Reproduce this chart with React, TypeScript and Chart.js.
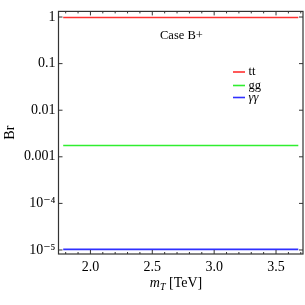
import React, { useEffect, useRef } from "react";
import { Chart, registerables } from "chart.js";
Chart.register(...registerables);

const massTeV = [1.78, 2.0, 2.5, 3.0, 3.5, 3.68];
const brTT = [0.98, 0.98, 0.98, 0.98, 0.98, 0.98];
const brGG = [0.00175, 0.00175, 0.00175, 0.00175, 0.00175, 0.00175];
const brAA = [1.03e-5, 1.03e-5, 1.03e-5, 1.03e-5, 1.03e-5, 1.03e-5];
const seriesLabels = ["tt", "gg", "γγ"];
const seriesColors = ["#ff3030", "#30ee30", "#3030ff"];
const yTicks = [1e-5, 1e-4, 1e-3, 1e-2, 0.1, 1];
const yTickLabels = ["10⁻⁵", "10⁻⁴", "0.001", "0.01", "0.1", "1"];
const xMajor = [2.0, 2.5, 3.0, 3.5];
const xMinor = [1.8, 1.9, 2.1, 2.2, 2.3, 2.4, 2.6, 2.7, 2.8, 2.9, 3.1, 3.2, 3.3, 3.4, 3.6, 3.7];
const annotation = "Case B+";
const xTitleMain = "m";
const xTitleSub = "T";
const xTitleUnit = " [TeV]";

const FONT = "'Liberation Serif', 'DejaVu Serif', serif";

const framePlugin = {
  id: "frame",
  afterDraw(chart: any) {
    const { ctx, chartArea: a, scales } = chart;
    const xs = scales.x;
    const ys = scales.y;
    ctx.save();
    ctx.strokeStyle = "#333";
    ctx.lineWidth = 1.2;
    ctx.strokeRect(a.left, a.top, a.right - a.left, a.bottom - a.top);
    ctx.lineWidth = 1;
    const tick = (x1: number, y1: number, x2: number, y2: number) => {
      ctx.beginPath();
      ctx.moveTo(x1, y1);
      ctx.lineTo(x2, y2);
      ctx.stroke();
    };
    xMajor.forEach((v) => {
      const p = xs.getPixelForValue(v);
      tick(p, a.bottom, p, a.bottom - 4);
      tick(p, a.top, p, a.top + 4);
    });
    xMinor.forEach((v) => {
      const p = xs.getPixelForValue(v);
      tick(p, a.bottom, p, a.bottom - 2);
      tick(p, a.top, p, a.top + 2);
    });
    yTicks.forEach((v) => {
      const p = ys.getPixelForValue(v);
      tick(a.left, p, a.left + 4, p);
      tick(a.right, p, a.right - 4, p);
    });
    // annotation
    ctx.fillStyle = "#000";
    ctx.font = `12.5px ${FONT}`;
    ctx.textBaseline = "middle";
    ctx.textAlign = "left";
    ctx.fillText(annotation, 160, 36);
    // legend
    const ly = [72, 85.5, 97.5];
    chart.data.datasets.forEach((ds: any, i: number) => {
      ctx.strokeStyle = ds.borderColor;
      ctx.lineWidth = 1.6;
      tick(233, ly[i], 245, ly[i]);
      ctx.fillStyle = "#000";
      ctx.font = i < 2 ? `12.5px ${FONT}` : `italic 12.5px ${FONT}`;
      ctx.fillText(ds.label, 248.5, ly[i]);
    });
    // x title with subscript
    ctx.textBaseline = "alphabetic";
    const base = 287;
    ctx.font = `italic 14px ${FONT}`;
    const wM = ctx.measureText(xTitleMain).width;
    ctx.font = `italic 10px ${FONT}`;
    const wS = ctx.measureText(xTitleSub).width;
    ctx.font = `14px ${FONT}`;
    const wU = ctx.measureText(xTitleUnit).width;
    let x = 176 - (wM + wS + wU) / 2;
    ctx.font = `italic 14px ${FONT}`;
    ctx.fillText(xTitleMain, x, base);
    x += wM;
    ctx.font = `italic 10px ${FONT}`;
    ctx.fillText(xTitleSub, x, base + 3);
    x += wS;
    ctx.font = `14px ${FONT}`;
    ctx.fillText(xTitleUnit, x, base);
    ctx.restore();
  },
};

export default function App() {
  const ref = useRef<HTMLCanvasElement>(null);
  useEffect(() => {
    if (!ref.current) return;
    const data = [brTT, brGG, brAA];
    const chart = new Chart(ref.current, {
      type: "line",
      data: {
        datasets: data.map((d, i) => ({
          label: seriesLabels[i],
          data: massTeV.map((x, j) => ({ x, y: d[j] })),
          borderColor: seriesColors[i],
          backgroundColor: seriesColors[i],
          borderWidth: 1.6,
          pointRadius: 0,
          tension: 0,
        })),
      },
      options: {
        animation: false,
        responsive: false,
        layout: { padding: { left: 0, right: 2, top: 10, bottom: 0 } },
        plugins: { legend: { display: false }, tooltip: { enabled: false } },
        scales: {
          x: {
            type: "linear",
            min: 1.742,
            max: 3.718,
            grid: { display: false, drawTicks: false },
            border: { display: false },
            afterBuildTicks: (s: any) => {
              s.ticks = xMajor.map((v) => ({ value: v }));
            },
            afterFit: (s: any) => {
              s.height = 51;
            },
            ticks: {
              padding: 5,
              color: "#000",
              font: { family: FONT, size: 14 },
              callback: (v: any) => Number(v).toFixed(1),
              maxRotation: 0,
            },
          },
          y: {
            type: "logarithmic",
            min: 8.2e-6,
            max: 1.32,
            grid: { display: false, drawTicks: false },
            border: { display: false },
            afterBuildTicks: (s: any) => {
              s.ticks = yTicks.map((v) => ({ value: v }));
            },
            afterFit: (s: any) => {
              s.width = 58.5;
            },
            ticks: {
              padding: 3,
              color: "#000",
              font: { family: FONT, size: 14 },
              callback: (v: any) => {
                const i = yTicks.findIndex((t) => Math.abs(t - v) / t < 1e-6);
                return i >= 0 ? yTickLabels[i] : "";
              },
            },
            title: {
              display: true,
              text: "Br",
              color: "#000",
              font: { family: FONT, size: 14 },
              padding: { bottom: 0, top: 2 },
            },
          },
        },
      } as any,
      plugins: [framePlugin],
    });
    return () => chart.destroy();
  }, []);
  return (
    <div style={{ position: "fixed", left: 0, top: 0, width: 305, height: 305, background: "#fff" }}>
      <canvas ref={ref} width={305} height={305} style={{ width: 305, height: 305 }} />
    </div>
  );
}
